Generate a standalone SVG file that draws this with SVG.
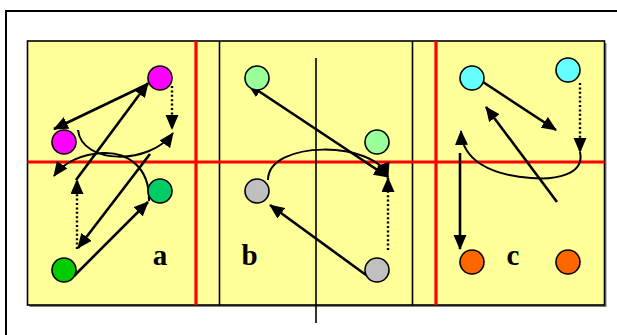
<svg xmlns="http://www.w3.org/2000/svg" width="617" height="335" viewBox="0 0 617 335">
<style>
.frame{fill:#fff;stroke:#000;stroke-width:2}
.panel{fill:#FFFF99;stroke:#000;stroke-width:1.6}
.shadow{fill:#808080}
.div{stroke:#000;stroke-width:1.6}
.red{stroke:#FF0000;stroke-width:3.2}
.node{stroke:#000;stroke-width:1.6}
.arr{fill:none;stroke:#000;stroke-width:2.6;marker-end:url(#ah)}
.arr2{fill:none;stroke:#000;stroke-width:2.6;marker-start:url(#ah);marker-end:url(#ah)}
.dot{fill:none;stroke:#000;stroke-width:2.4;stroke-dasharray:2 2.4;marker-end:url(#ah)}
.crv{fill:none;stroke:#000;stroke-width:2;marker-end:url(#ah)}
.lbl{font-family:"Liberation Serif",serif;font-weight:bold;font-size:29px;fill:#000}
</style>
<defs>
<marker id="ah" markerUnits="userSpaceOnUse" markerWidth="16" markerHeight="14" refX="14" refY="6.5" orient="auto-start-reverse" viewBox="0 0 16 14">
<path d="M0,0 L15,6.5 L0,13 z" fill="#000"/>
</marker>
</defs>
<rect class="frame" x="6" y="11" width="620" height="335"/>
<g id="board">
<rect class="shadow" x="29.5" y="43" width="577" height="264"/>
<rect class="panel" x="27.5" y="41" width="577" height="264"/>
<line class="div" x1="219.5" y1="41" x2="219.5" y2="305"/>
<line class="div" x1="412.5" y1="41" x2="412.5" y2="305"/>
<line class="red" x1="196" y1="41" x2="196" y2="305"/>
<line class="red" x1="436" y1="41" x2="436" y2="305"/>
<line class="red" x1="27.5" y1="162" x2="604.5" y2="162"/>
<line class="div" x1="316" y1="58" x2="316" y2="323"/>
</g>
<g id="connectors">
<line class="arr" x1="148" y1="84" x2="54" y2="129"/>
<line class="arr" x1="76" y1="180" x2="148" y2="83"/>
<line class="dot" x1="172" y1="86" x2="172" y2="129"/>
<path class="crv" d="M78,130 C82,165 150,165 173,133"/>
<path class="crv" d="M149,201 C150,165 125,152 103,153 C82,154 64,162 54,176"/>
<line class="arr" x1="150" y1="154" x2="78" y2="248"/>
<line class="dot" x1="77" y1="249" x2="77" y2="180"/>
<line class="arr" x1="74" y1="276" x2="148" y2="202"/>
<line class="arr2" x1="248" y1="84" x2="388" y2="177"/>
<line class="arr" x1="366" y1="275" x2="270" y2="205"/>
<line class="dot" x1="388" y1="250" x2="388" y2="178"/>
<path class="crv" d="M268,180 C268,140 375,140 388,177"/>
<line class="arr" x1="483" y1="82" x2="556" y2="130"/>
<line class="dot" x1="580" y1="83" x2="580" y2="152"/>
<path class="crv" d="M580,152 C585,175 555,180 531,178 C490,175 462,160 461,131"/>
<line class="arr" x1="557" y1="202" x2="486" y2="107"/>
<line class="arr" x1="460" y1="153" x2="460" y2="249"/>
</g>
<g id="n_a1"><circle class="node" cx="160" cy="78" r="12" fill="#FF00FF"/></g>
<g id="n_a2"><circle class="node" cx="64" cy="142" r="12" fill="#FF00FF"/></g>
<g id="n_a3"><circle class="node" cx="160" cy="191" r="12" fill="#00CC66"/></g>
<g id="n_a4"><circle class="node" cx="64" cy="270" r="12" fill="#00CC00"/></g>
<g id="n_b1"><circle class="node" cx="257" cy="78" r="12" fill="#99FF99"/></g>
<g id="n_b2"><circle class="node" cx="377" cy="142" r="12" fill="#99FF99"/></g>
<g id="n_b3"><circle class="node" cx="257" cy="191" r="12" fill="#C0C0C0"/></g>
<g id="n_b4"><circle class="node" cx="377" cy="270" r="12" fill="#C0C0C0"/></g>
<g id="n_c1"><circle class="node" cx="472" cy="78" r="12" fill="#66FFFF"/></g>
<g id="n_c2"><circle class="node" cx="568" cy="70" r="12" fill="#66FFFF"/></g>
<g id="n_c3"><circle class="node" cx="472" cy="262" r="12" fill="#FF6600"/></g>
<g id="n_c4"><circle class="node" cx="568" cy="262" r="12" fill="#FF6600"/></g>
<g id="labels">
<text class="lbl" x="160" y="265" text-anchor="middle">a</text>
<text class="lbl" x="249.5" y="265" text-anchor="middle">b</text>
<text class="lbl" x="513" y="265" text-anchor="middle">c</text>
</g>
</svg>
